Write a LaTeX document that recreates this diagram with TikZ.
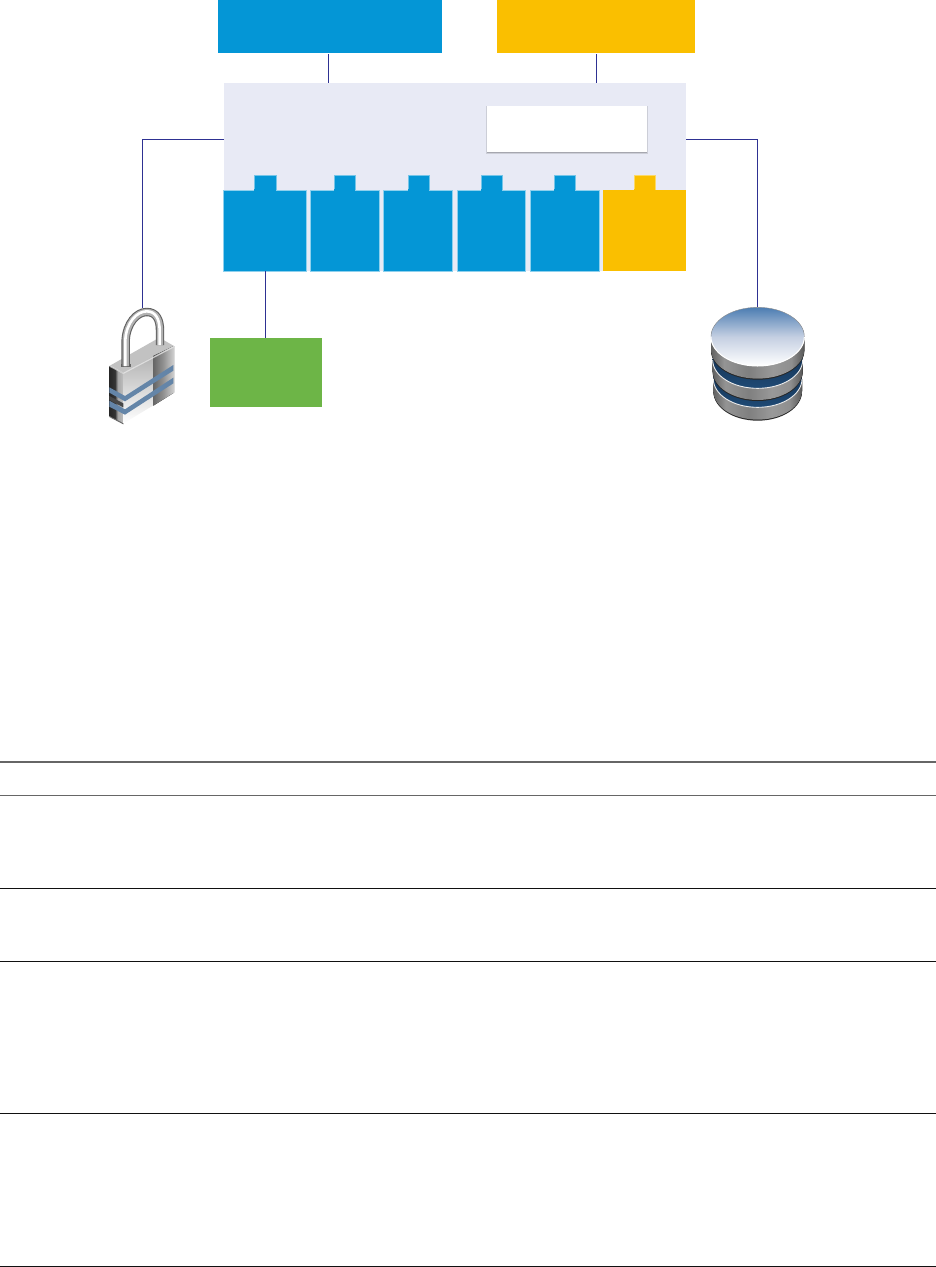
\documentclass[tikz,border=0pt]{standalone}
\usetikzlibrary{calc}
\definecolor{cblue}{HTML}{0496D6}
\definecolor{cyellow}{HTML}{FABF00}
\definecolor{cgreen}{HTML}{6DB547}
\definecolor{cpanel}{HTML}{E8EAF5}
\definecolor{cline}{HTML}{2E3192}
\definecolor{crule}{HTML}{111111}
\definecolor{lockstripe}{HTML}{6485A8}
\definecolor{dbdark}{HTML}{16375A}
\definecolor{dbmid}{HTML}{1F4A75}
\definecolor{dbtop}{HTML}{4C7DB2}
\definecolor{dbtopmid}{HTML}{C4CFE2}
\pgfdeclarehorizontalshading{dbside}{100bp}{color(0bp)=(black!62);color(25bp)=(black!62);color(32bp)=(black!42);color(45bp)=(black!50);color(58bp)=(black!40);color(68bp)=(black!44);color(75bp)=(black!66);color(100bp)=(black!66)}
\pgfdeclarehorizontalshading{lockleft}{100bp}{color(0bp)=(black!85);color(25bp)=(black!85);color(45bp)=(black!80);color(55bp)=(black!35);color(75bp)=(black!25);color(100bp)=(black!25)}
\pgfdeclarehorizontalshading{lockright}{100bp}{color(0bp)=(black!60);color(25bp)=(black!60);color(50bp)=(black!42);color(75bp)=(black!18);color(100bp)=(black!18)}
\tikzset{
  block/.style={rectangle,inner sep=0pt,outer sep=0pt},
  link/.style={cline,line width=0.9pt},
  slotblue/.style={block,fill=cblue,draw=cblue!45!white,line width=0.5pt},
  slotyellow/.style={block,fill=cyellow},
  tabblue/.style={block,fill=cblue,draw=cblue!55!white,line width=0.4pt},
  tabyellow/.style={block,fill=cyellow,draw=cyellow!60!white,line width=0.4pt},
  tablerule/.style={crule,line width=0.9pt},
  headrule/.style={black!60,line width=0.9pt}
}
\newcommand{\boxat}[6][block]{\node[#1,minimum width=#4pt-#2pt,minimum height=#5pt-#3pt,anchor=north west] (#6) at (#2,#3) {};}
\newcommand{\shacklepath}{(107,228) -- (107,150) .. controls (110,100) and (140,66) .. (170,66) .. controls (200,66) and (210,90) .. (210,122) -- (210,165)}
\begin{document}
\begin{tikzpicture}[x=1pt,y=-1pt]
\useasboundingbox (0,0) rectangle (936,1267);
\fill[white] (0,0) rectangle (936,1267);
% top boxes and panel
\boxat[block,fill=cblue]{218}{0}{442}{53}{app}
\boxat[block,fill=cyellow]{497}{0}{695}{53}{mgmt}
\boxat[block,fill=cpanel]{224}{83}{686}{271}{panel}
% white box and its soft shadow
\foreach \o/\a in {2.4/0.05,1.8/0.07,1.2/0.09,0.6/0.10}{
  \fill[black,opacity=\a] (487-\o*0.3,106) rectangle (647+\o*0.3,152+\o);
}
\boxat[block,fill=white]{487}{106}{647}{152}{inner}
% tabs
\boxat[tabblue]{254.3}{175}{275.7}{191}{t1}
\boxat[tabblue]{334.3}{175}{355.3}{191}{t2}
\boxat[tabblue]{407.7}{175}{428.7}{191}{t3}
\boxat[tabblue]{481}{175}{502}{191}{t4}
\boxat[tabblue]{554}{175}{575}{191}{t5}
\boxat[tabyellow]{634}{175}{655}{191}{t6}
% slots
\boxat[slotblue]{223.7}{190}{306}{271.3}{s1}
\boxat[slotblue]{310.3}{190}{379.3}{271.3}{s2}
\boxat[slotblue]{383.7}{190}{452.7}{271.3}{s3}
\boxat[slotblue]{457}{190}{525.7}{271.3}{s4}
\boxat[slotblue]{530}{190}{599}{271.3}{s5}
\boxat[slotyellow]{603.3}{190}{686}{271.3}{s6}
\fill[cblue] (t1.south west) ++(0,-2) rectangle ($(t1.south east)+(0,1)$);
\fill[cblue] (t2.south west) ++(0,-2) rectangle ($(t2.south east)+(0,1)$);
\fill[cblue] (t3.south west) ++(0,-2) rectangle ($(t3.south east)+(0,1)$);
\fill[cblue] (t4.south west) ++(0,-2) rectangle ($(t4.south east)+(0,1)$);
\fill[cblue] (t5.south west) ++(0,-2) rectangle ($(t5.south east)+(0,1)$);
\fill[cyellow] (t6.south west) ++(0,-2) rectangle ($(t6.south east)+(0,1)$);
% green box
\boxat[block,fill=cgreen]{210}{338}{322}{407}{store}
% lock
\begin{scope}[shift={(90,290)},x=0.33333pt,y=-0.33333pt]
  \fill[black!24] (58,228) -- (100,250) -- (252,168) -- (208,143) -- cycle;
  \fill[shading=lockleft] (58,228) -- (100,250) -- (100,400) -- (58,378) -- cycle;
  \shade[top color=black!30,bottom color=white] (100,250) -- (192,198) -- (192,345) -- (100,400) -- cycle;
  \fill[shading=lockright] (190,198) -- (252,168) -- (252,308) -- (190,347) -- cycle;
  \fill[black!72] (58,318) -- (100,340) -- (100,352) -- (58,330) -- cycle;
  \fill[black!10,opacity=.7] (60,226) -- (100,248) -- (100,252) -- (58,230) -- cycle;
  \fill[black!10,opacity=.8] (100,248) -- (252,168) -- (252,172) -- (100,252) -- cycle;
  \fill[black!60] (58,378) -- (100,400) -- (100,403) -- (58,381) -- cycle;
  \fill[lockstripe] (58,292) -- (105,318) -- (250,225) -- (250,242) -- (105,334) -- (58,308) -- cycle;
  \fill[lockstripe] (58,332) -- (105,358) -- (250,263) -- (250,280) -- (105,374) -- (58,350) -- cycle;
  \fill[black!60] (94,222) rectangle (122,232);
  \draw[black!62,line width=8.4pt,line join=round] \shacklepath;
  \draw[black!30,line width=6.2pt] \shacklepath;
  \draw[white,line width=2.6pt] (106,228) -- (106,150) .. controls (109,98) and (140,64) .. (170,64) .. controls (199,64) and (209,90) .. (209,122) -- (209,165);
  \coordinate (lockTop) at (157,53);
\end{scope}
% database
\begin{scope}[shift={(690,290)},x=0.33333pt,y=-0.33333pt]
  \foreach \cy/\ch/\r in {267/38/133,210/36/135,140/42/140}{
    \fill[black!85] (203-\r,\cy) -- (203-\r,\cy+\ch) arc[start angle=180,end angle=0,x radius=\r,y radius=87] -- (203+\r,\cy) -- cycle;
    \fill[shading=dbside] (203-\r,\cy) -- (203-\r,\cy+\ch-3) arc[start angle=180,end angle=0,x radius=\r,y radius=87] -- (203+\r,\cy) -- cycle;
    \shade[top color=black!70,bottom color=dbmid,middle color=dbdark] (203,\cy) ellipse[x radius=\r,y radius=85];
    \draw[white!92!black,line width=0.9pt] (203-\r,\cy) arc[start angle=180,end angle=0,x radius=\r,y radius=85];
  }
  \shade[top color=dbtop,bottom color=white,middle color=dbtopmid] (203,140) ellipse[x radius=140,y radius=88];
  \draw[white,line width=1pt] (63,140) arc[start angle=180,end angle=0,x radius=140,y radius=88];
  \draw[black!45,line width=0.4pt] (63,140) arc[start angle=180,end angle=360,x radius=140,y radius=88];
  \coordinate (dbTop) at (203,52);
\end{scope}
% connectors
\coordinate (xa) at (328.3,0);
\coordinate (xb) at (596.3,0);
\coordinate (xc) at (265.5,0);
\coordinate (yl) at (0,139.5);
\draw[link] ($(app.south -| xa)+(0,1)$) -- (panel.north -| xa);
\draw[link] ($(mgmt.south -| xb)+(0,1)$) -- (panel.north -| xb);
\draw[link] (panel.west |- yl) -| (lockTop);
\draw[link] (panel.east |- yl) -| (dbTop);
\draw[link] (s1.south -| xc) -- (store.north -| xc);
% table rules
\coordinate (r0) at (0,761.7); \coordinate (r0e) at (936,761.7);
\coordinate (r1) at (0,795.3); \coordinate (r1e) at (936,795.3);
\coordinate (r2) at (0,888);   \coordinate (r2e) at (936,888);
\coordinate (r3) at (0,961);   \coordinate (r3e) at (936,961);
\coordinate (r4) at (0,1113.3);\coordinate (r4e) at (936,1113.3);
\coordinate (r5) at (0,1266.4);\coordinate (r5e) at (936,1266.4);
\draw[headrule,line width=1.6pt] (r0) -- (r0e);
\draw[headrule] (r1) -- (r1e);
\draw[tablerule] (r2) -- (r2e);
\draw[tablerule] (r3) -- (r3e);
\draw[tablerule] (r4) -- (r4e);
\draw[tablerule] (r5) -- (r5e);
\end{tikzpicture}
\end{document}
